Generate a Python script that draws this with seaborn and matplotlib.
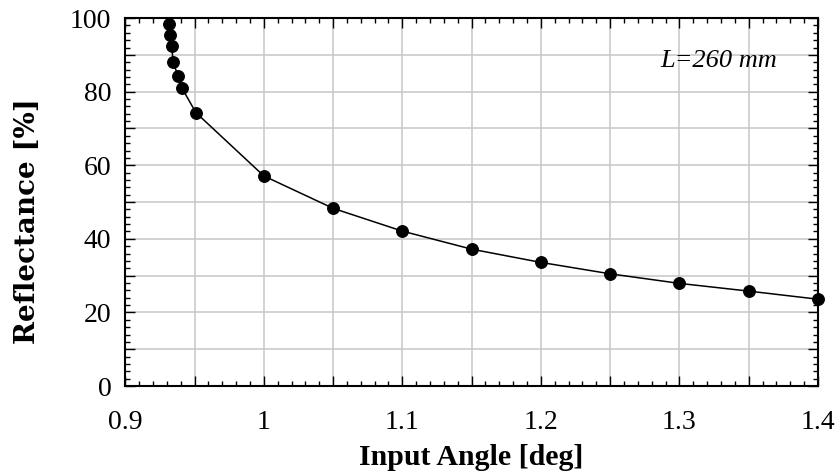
import matplotlib
matplotlib.use("Agg")
import matplotlib.pyplot as plt
import seaborn as sns
import numpy as np
import pandas as pd
from matplotlib.ticker import MultipleLocator, FuncFormatter

angle_deg = [0.9315, 0.9322, 0.9335, 0.9345, 0.938, 0.9407, 0.951,
             1.00, 1.05, 1.10, 1.15, 1.20, 1.25, 1.30, 1.35, 1.40]
reflectance_pct = [98.4, 95.4, 92.4, 88.1, 84.3, 81.1, 74.3,
                   57.1, 48.3, 42.1, 37.2, 33.6, 30.5, 27.9, 25.8, 23.6]
x_label = "Input Angle [deg]"
y_label = "Reflectance [%]"
note = "L=260 mm"

sns.set_theme(style="white")
plt.rcParams['font.family'] = ['Liberation Serif', 'DejaVu Serif']
plt.rcParams.update({"text.color": "black", "axes.labelcolor": "black",
                     "xtick.color": "black", "ytick.color": "black"})

df = pd.DataFrame({"angle": angle_deg, "refl": reflectance_pct})

fig = plt.figure(figsize=(8.37, 4.76), dpi=100)
ax = fig.add_axes([0.1497, 0.189, 0.8275, 0.773])

sns.lineplot(data=df, x="angle", y="refl", ax=ax, estimator=None, sort=False,
             color="black", linewidth=1.1, marker="o", markersize=8.5,
             markeredgecolor="black", markerfacecolor="black", clip_on=False, zorder=5)

ax.set_xlim(0.9, 1.4)
ax.set_ylim(0, 100)

ax.xaxis.set_major_locator(MultipleLocator(0.05))
ax.xaxis.set_minor_locator(MultipleLocator(0.01))
ax.yaxis.set_major_locator(MultipleLocator(10))
ax.yaxis.set_minor_locator(MultipleLocator(2))

def xfmt(v, pos):
    k = v / 0.1
    if abs(k - round(k)) < 1e-6:
        return "%g" % round(v, 2)
    return ""

def yfmt(v, pos):
    if abs(v / 20 - round(v / 20)) < 1e-6:
        return "%d" % round(v)
    return ""

ax.xaxis.set_major_formatter(FuncFormatter(xfmt))
ax.yaxis.set_major_formatter(FuncFormatter(yfmt))

ax.grid(True, which="major", color="#c6c6c6", linewidth=1.1)
ax.set_axisbelow(True)

ax.tick_params(which="both", direction="in", top=True, right=True,
               bottom=True, left=True, color="black", width=1.0,
               labelcolor="black")
ax.tick_params(which="major", length=7)
ax.tick_params(which="minor", length=3.5)
ax.tick_params(axis="x", which="major", labelsize=20, pad=17)
ax.tick_params(axis="y", which="major", labelsize=20, pad=10)

for s in ax.spines.values():
    s.set_linewidth(1.5)
    s.set_color("black")

ax.set_xlabel(x_label, fontsize=21.5, fontweight="bold", labelpad=7)
ax.set_ylabel(y_label, fontsize=20, fontweight="bold",
              family=['DejaVu Serif'])
ax.yaxis.set_label_coords(-0.121, 0.448)

ax.text(1.3706, 86.7, note, fontsize=19, style="italic", ha="right",
        va="baseline", zorder=6)

fig.savefig("out.png", dpi=100)
